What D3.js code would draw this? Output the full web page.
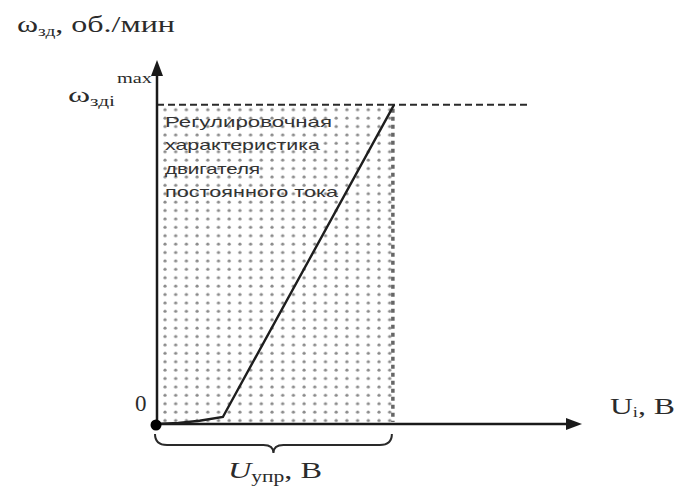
<!DOCTYPE html>
<html>
<head>
<meta charset="utf-8">
<script src="https://cdn.jsdelivr.net/npm/d3@7/dist/d3.min.js"></script>
<style>
  html, body { margin: 0; padding: 0; background: #fff; }
  svg { display: block; }
  .serif { font-family: "Liberation Serif", "Times New Roman", serif; fill: #2b2b2b; }
  .note { font-family: "Liberation Sans", Arial, sans-serif; fill: #333; }
</style>
</head>
<body>
<svg id="chart" width="677" height="490"></svg>
<script>
// Control characteristic of a DC motor: speed vs control voltage
const uCtrl  = [0, 0.5, 1.0, 1.55, 5.58];      // control voltage, arbitrary units
const omega  = [0, 0.003, 0.01, 0.022, 1.0];   // speed, fraction of omega max
const uCtrlMax = 5.55;                          // upper bound of control range
const omegaMax = 1.0;
const uAxisMax = 10;
const omegaAxisMax = 1.14;
const dashEndU = 8.8;
const noteLines = ["Регулировочная", "характеристика", "двигателя", "постоянного тока"];
const noteWidths = [167, 155, 95, 173];

const svg = d3.select("#chart");
const x = d3.scaleLinear().domain([0, uAxisMax]).range([157, 582]);
const y = d3.scaleLinear().domain([0, omegaAxisMax]).range([424, 60]);

// dotted fill pattern for the control range
const defs = svg.append("defs");
const pat = defs.append("pattern")
  .attr("id", "dots").attr("patternUnits", "userSpaceOnUse")
  .attr("x", x(0) + 6).attr("y", y(omegaMax) + 3)
  .attr("width", 10.7).attr("height", 8.4);
pat.append("circle").attr("cx", 2).attr("cy", 2).attr("r", 1.6).attr("fill", "#8a8a8a");

svg.append("rect")
  .attr("x", x(0) + 2).attr("y", y(omegaMax))
  .attr("width", x(uCtrlMax) - x(0) - 2)
  .attr("height", y(0) - y(omegaMax))
  .attr("fill", "url(#dots)");

// darker dotted right edge of the range
svg.append("line")
  .attr("x1", x(uCtrlMax)).attr("x2", x(uCtrlMax))
  .attr("y1", y(omegaMax) + 4).attr("y2", y(0) - 2)
  .attr("stroke", "#666").attr("stroke-width", 3.5)
  .attr("stroke-dasharray", "4 4");

// dashed level of maximum speed
svg.append("line")
  .attr("x1", x(0)).attr("x2", x(dashEndU))
  .attr("y1", y(omegaMax)).attr("y2", y(omegaMax))
  .attr("stroke", "#2a2a2a").attr("stroke-width", 2)
  .attr("stroke-dasharray", "7 4");

// note text
const note = svg.append("g").attr("class", "note");
noteLines.forEach((t, i) => {
  note.append("text")
    .attr("x", x(0) + 8).attr("y", 127 + i * 23.3)
    .attr("font-size", 15)
    .attr("textLength", noteWidths[i])
    .attr("lengthAdjust", "spacingAndGlyphs")
    .text(t);
});

// axes with arrow heads
const axisColor = "#1a1a1a";
svg.append("line")
  .attr("x1", x(0)).attr("x2", x(0)).attr("y1", y(0)).attr("y2", y(omegaAxisMax) + 10)
  .attr("stroke", axisColor).attr("stroke-width", 2.5);
svg.append("path")
  .attr("d", `M${x(0)},${y(omegaAxisMax)} l-6,16 l12,0 z`)
  .attr("fill", axisColor);
svg.append("line")
  .attr("x1", x(0)).attr("x2", x(uAxisMax) - 10).attr("y1", y(0)).attr("y2", y(0))
  .attr("stroke", axisColor).attr("stroke-width", 2.5);
svg.append("path")
  .attr("d", `M${x(uAxisMax)},${y(0)} l-16,-6 l0,12 z`)
  .attr("fill", axisColor);

// characteristic curve
const line = d3.line().x((d, i) => x(uCtrl[i])).y(d => y(d));
svg.append("path")
  .datum(omega)
  .attr("d", line)
  .attr("fill", "none").attr("stroke", "#1e1e1e").attr("stroke-width", 2.4);

// origin dot
svg.append("circle").attr("cx", x(0) - 1).attr("cy", y(0) + 1).attr("r", 5.5).attr("fill", "#000");

// brace under the control range
const bx0 = x(0) - 2, bx1 = x(uCtrlMax) - 1, bm = (bx0 + bx1) / 2;
const by0 = y(0) + 10, by1 = y(0) + 21, by2 = y(0) + 29;
svg.append("path")
  .attr("d", `M${bx0},${by0} Q${bx0},${by1} ${bx0 + 12},${by1} L${bm - 10},${by1} Q${bm},${by1} ${bm},${by2} Q${bm},${by1} ${bm + 10},${by1} L${bx1 - 12},${by1} Q${bx1},${by1} ${bx1},${by0}`)
  .attr("fill", "none").attr("stroke", "#2a2a2a").attr("stroke-width", 2);

// labels (glyphs stretched to the drawn widths)
const yl = svg.append("text").attr("class", "serif").attr("x", 17).attr("y", 32).attr("font-size", 23)
  .attr("textLength", 158).attr("lengthAdjust", "spacingAndGlyphs");
yl.append("tspan").text("ω");
yl.append("tspan").attr("font-size", 14).attr("dy", 4).text("зд");
yl.append("tspan").attr("dy", -4).text(", об./мин");

const ym = svg.append("text").attr("class", "serif").attr("x", 68).attr("y", 102).attr("font-size", 22)
  .attr("textLength", 47).attr("lengthAdjust", "spacingAndGlyphs");
ym.append("tspan").text("ω");
ym.append("tspan").attr("font-size", 14).attr("dy", 4).text("здi");
svg.append("text").attr("class", "serif").attr("x", 117).attr("y", 83).attr("font-size", 14)
  .attr("textLength", 35).attr("lengthAdjust", "spacingAndGlyphs").text("max");

svg.append("text").attr("class", "serif").attr("x", 135).attr("y", 411).attr("font-size", 23).text("0");

const xl = svg.append("text").attr("class", "serif").attr("x", 610).attr("y", 414).attr("font-size", 24)
  .attr("textLength", 65).attr("lengthAdjust", "spacingAndGlyphs");
xl.append("tspan").text("U");
xl.append("tspan").attr("font-size", 14).attr("dy", 3).text("i");
xl.append("tspan").attr("dy", -3).text(", B");

const ul = svg.append("text").attr("class", "serif").attr("x", 228).attr("y", 478).attr("font-size", 24)
  .attr("textLength", 94).attr("lengthAdjust", "spacingAndGlyphs");
ul.append("tspan").attr("font-style", "italic").text("U");
ul.append("tspan").attr("font-size", 16).attr("dy", 4).text("упр");
ul.append("tspan").attr("dy", -4).text(", В");
</script>
</body>
</html>
